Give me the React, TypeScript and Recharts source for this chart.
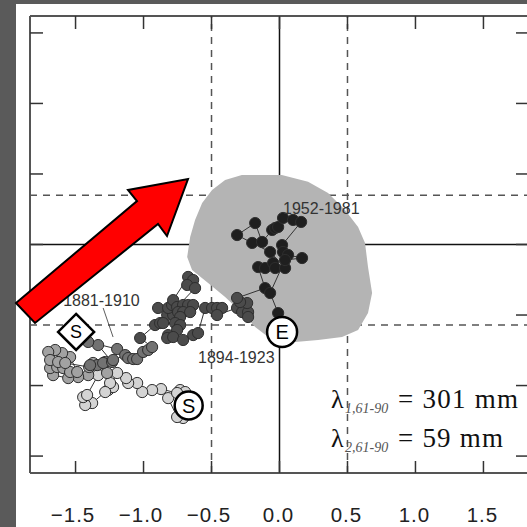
import React from "react";
import { ComposedChart, Scatter, XAxis, YAxis, ReferenceLine, Curve } from "recharts";

type Pt = [number, number];

const X_TICKS = [-1.5, -1, -0.5, 0, 0.5, 1, 1.5];
const Y_TICKS = [-1.5, -1, -0.5, 0, 0.5, 1, 1.5];
const X_DOMAIN = [-1.835, 1.835];
const Y_DOMAIN = [-1.62, 1.62];
const DASHED_X = [-0.5, 0.5];
const DASHED_Y = [0.35, -0.57];

// grey envelope (outline, clockwise from top)
const ENVELOPE: Pt[] = [
  [-0.277, 0.493], [0.017, 0.493], [0.21, 0.445], [0.357, 0.365], [0.482, 0.245],
  [0.578, 0.124], [0.629, 0.011], [0.651, -0.16], [0.681, -0.344], [0.651, -0.486],
  [0.578, -0.606], [0.46, -0.656], [0.284, -0.677], [0.115, -0.691], [-0.054, -0.677],
  [-0.179, -0.585], [-0.275, -0.486], [-0.4, -0.372], [-0.525, -0.273], [-0.643, -0.181],
  [-0.679, -0.089], [-0.657, 0.053], [-0.621, 0.174], [-0.569, 0.294], [-0.496, 0.387],
  [-0.4, 0.457],
];

// trajectory, oldest (light) to newest (black)
const LIGHT: Pt[] = [
  [-0.657, -1.138], [-0.709, -1.23], [-0.753, -1.223], [-0.819, -1.089], [-0.731, -1.032],
  [-0.694, -1.046], [-0.753, -1.053], [-0.871, -1.025], [-0.937, -1.032], [-1.01, -1.046],
  [-1.047, -0.982], [-1.113, -0.982], [-1.128, -0.947], [-1.194, -0.911], [-1.26, -1.032],
  [-1.224, -1.011], [-1.246, -0.982], [-1.282, -1.046], [-1.378, -1.124], [-1.429, -1.138],
  [-1.444, -1.082], [-1.415, -1.067], [-1.334, -0.926],
];
const MID_LIGHT: Pt[] = [
  [-1.407, -0.926], [-1.481, -0.94], [-1.554, -0.947], [-1.665, -0.926], [-1.687, -0.876],
  [-1.635, -0.869], [-1.591, -0.876], [-1.54, -0.904], [-1.488, -0.904], [-1.54, -0.798],
  [-1.599, -0.77], [-1.65, -0.748], [-1.701, -0.762], [-1.687, -0.819], [-1.628, -0.833],
  [-1.576, -0.84], [-1.4, -0.869], [-1.371, -0.84], [-1.268, -0.911],
];
const MID_DARK: Pt[] = [
  [-1.282, -0.833], [-1.341, -0.855], [-1.393, -0.855], [-1.297, -0.84], [-1.231, -0.833],
  [-1.334, -0.713], [-1.407, -0.691], [-1.194, -0.741], [-1.224, -0.819], [-1.135, -0.784],
  [-1.113, -0.805], [-1.076, -0.812], [-1.047, -0.812], [-1.003, -0.762], [-0.966, -0.748],
  [-0.937, -0.727],
];
const DARK: Pt[] = [
  [-1.025, -0.663], [-0.915, -0.571], [-0.878, -0.557], [-0.826, -0.5], [-0.782, -0.5],
  [-0.893, -0.45], [-0.819, -0.45], [-0.79, -0.429], [-0.782, -0.394], [-0.672, -0.23],
  [-0.635, -0.252], [-0.679, -0.287], [-0.621, -0.309], [-0.753, -0.443], [-0.709, -0.429],
  [-0.672, -0.429], [-0.635, -0.429], [-0.746, -0.479], [-0.709, -0.479], [-0.657, -0.479],
  [-0.731, -0.514], [-0.768, -0.557], [-0.856, -0.557], [-0.731, -0.571], [-0.753, -0.606],
  [-0.819, -0.642], [-0.826, -0.663], [-0.782, -0.656], [-0.709, -0.677], [-0.635, -0.642],
  [-0.599, -0.628], [-0.547, -0.45], [-0.496, -0.45], [-0.459, -0.45], [-0.422, -0.45],
  [-0.459, -0.5], [-0.312, -0.45], [-0.275, -0.479], [-0.231, -0.479], [-0.231, -0.514],
  [-0.238, -0.415], [-0.29, -0.408], [-0.312, -0.379],
];
const BLACK: Pt[] = [
  [-0.106, -0.309], [-0.157, -0.16], [-0.106, -0.167], [-0.047, -0.131], [-0.032, -0.167],
  [0.041, -0.167], [-0.069, -0.053], [-0.201, 0.011], [-0.312, 0.067], [-0.179, 0.152],
  [-0.128, 0.018], [-0.054, 0.103], [-0.032, 0.117], [-0.01, 0.124], [0.026, 0.188],
  [0.1, 0.174], [0.159, 0.16], [0.019, -0.004], [0.026, -0.053], [0.063, -0.074],
  [0.166, -0.096], [0.041, -0.11], [-0.069, -0.344], [-0.01, -0.486],
];

const START_S: Pt[] = [[-0.668, -1.142]];
const END_E: Pt[] = [[0.019, -0.62]];
const DIAMOND_S: Pt[] = [[-1.496, -0.62]];

const PERIOD_LABELS = ["1952-1981", "1881-1910", "1894-1923"];
const PERIOD_POS: Pt[] = [[0.026, 0.216], [-1.591, -0.436], [-0.599, -0.84]];
const LEADER: Pt[] = [[-1.297, -0.45], [-1.224, -0.656]];

const toXY = (pts: Pt[]) => pts.map(([x, y]) => ({ x, y }));

const GROUPS = [
  { name: "light", pts: LIGHT, fill: "#d4d4d4" },
  { name: "midLight", pts: MID_LIGHT, fill: "#a2a2a2" },
  { name: "midDark", pts: MID_DARK, fill: "#727272" },
  { name: "dark", pts: DARK, fill: "#4b4b4b" },
  { name: "black", pts: BLACK, fill: "#1f1f1f" },
];

const TRAJECTORY = [...START_S, ...LIGHT, ...MID_LIGHT, ...MID_DARK, ...DARK, ...BLACK, ...END_E];

const SANS = "Liberation Sans, Arial, sans-serif";
const SERIF = "Liberation Serif, Times New Roman, serif";
const TICK = "#333";

const Empty = () => <g />;

const fmt = (v: number) => (v < 0 ? "\u2212" : "") + Math.abs(v).toFixed(1);

const BottomTick = (p: any) => (
  <g>
    <line x1={p.x} y1={p.y} x2={p.x} y2={p.y - 12} stroke={TICK} strokeWidth={1.5} />
    <text
      x={p.x + (p.payload.value < 0 ? -2.5 : -1)}
      y={p.y + 49}
      textAnchor="middle"
      fontFamily={SANS}
      fontSize={20.5}
      letterSpacing={1}
      fill="#222"
    >
      {fmt(p.payload.value)}
    </text>
  </g>
);
const TopTick = (p: any) => (
  <line x1={p.x} y1={p.y} x2={p.x} y2={p.y + 13} stroke={TICK} strokeWidth={1.5} />
);
const LeftTick = (p: any) => (
  <line x1={p.x} y1={p.y} x2={p.x + 13} y2={p.y} stroke={TICK} strokeWidth={1.5} />
);
const RightTick = (p: any) => (
  <line x1={p.x} y1={p.y} x2={p.x - 13} y2={p.y} stroke={TICK} strokeWidth={1.5} />
);

const envelopeLine = (p: any) => (
  <Curve points={p.points} type="linearClosed" fill="#b4b4b4" stroke="none" />
);

const dot = (fill: string) => (p: any) => (
  <circle cx={p.cx} cy={p.cy} r={5.6} fill={fill} stroke="#2e2e2e" strokeWidth={1} />
);

const circleMarker = (letter: string, r: number) => (p: any) => (
  <g>
    <circle cx={p.cx} cy={p.cy} r={r} fill="#fff" stroke="#000" strokeWidth={2.5} />
    <text x={p.cx} y={p.cy + 7} textAnchor="middle" fontFamily={SANS} fontSize={20} fill="#000">
      {letter}
    </text>
  </g>
);

const diamondMarker = (p: any) => {
  const h = 18;
  return (
    <g>
      <polygon
        points={`${p.cx},${p.cy - h} ${p.cx + h},${p.cy} ${p.cx},${p.cy + h} ${p.cx - h},${p.cy}`}
        fill="#fff"
        stroke="#000"
        strokeWidth={2.5}
      />
      <text x={p.cx} y={p.cy + 6.5} textAnchor="middle" fontFamily={SANS} fontSize={18} fill="#000">
        S
      </text>
    </g>
  );
};

const periodLabel = (p: any) => (
  <text x={p.cx} y={p.cy} fontFamily={SANS} fontSize={16} fill="#333">
    {PERIOD_LABELS[p.index]}
  </text>
);

const axisLine = { stroke: "#555", strokeWidth: 2 };

export default function App() {
  return (
    <div
      style={{
        position: "fixed",
        left: 0,
        top: 0,
        width: 527,
        height: 527,
        overflow: "hidden",
        background: "#5a5a5a",
      }}
    >
      <div style={{ position: "absolute", left: 16, top: 4, width: 511, height: 523, background: "#fff" }} />
      <div style={{ position: "absolute", left: 0, top: 0 }}>
        <ComposedChart width={545} height={527} margin={{ top: 15, right: 15, bottom: 53, left: 29 }}>
          <XAxis
            type="number"
            dataKey="x"
            domain={X_DOMAIN}
            ticks={X_TICKS}
            interval={0}
            height={1}
            tickSize={0}
            tickMargin={0}
            tickLine={false}
            axisLine={axisLine}
            tick={BottomTick}
            allowDataOverflow
          />
          <XAxis
            xAxisId="top"
            orientation="top"
            type="number"
            dataKey="x"
            domain={X_DOMAIN}
            ticks={X_TICKS}
            interval={0}
            height={1}
            tickSize={0}
            tickMargin={0}
            tickLine={false}
            axisLine={axisLine}
            tick={TopTick}
            allowDataOverflow
          />
          <YAxis
            type="number"
            dataKey="y"
            domain={Y_DOMAIN}
            ticks={Y_TICKS}
            interval={0}
            width={1}
            tickSize={0}
            tickMargin={0}
            tickLine={false}
            axisLine={axisLine}
            tick={LeftTick}
            allowDataOverflow
          />
          <YAxis
            yAxisId="right"
            orientation="right"
            type="number"
            dataKey="y"
            domain={Y_DOMAIN}
            ticks={Y_TICKS}
            interval={0}
            width={1}
            tickSize={0}
            tickMargin={0}
            tickLine={false}
            axisLine={axisLine}
            tick={RightTick}
            allowDataOverflow
          />

          <Scatter data={toXY(ENVELOPE)} shape={Empty} line={envelopeLine} isAnimationActive={false} />

          {DASHED_X.map((v) => (
            <ReferenceLine key={`dx${v}`} x={v} stroke="#555" strokeWidth={1.5} strokeDasharray="7 6" />
          ))}
          {DASHED_Y.map((v) => (
            <ReferenceLine key={`dy${v}`} y={v} stroke="#555" strokeWidth={1.5} strokeDasharray="7 6" />
          ))}
          <ReferenceLine x={0} stroke="#111" strokeWidth={1.5} />
          <ReferenceLine y={0} stroke="#111" strokeWidth={1.5} />
          <ReferenceLine segment={toXY(LEADER)} stroke="#333" strokeWidth={0.8} />

          <Scatter
            data={toXY(TRAJECTORY)}
            shape={Empty}
            line={{ stroke: "#333", strokeWidth: 1 }}
            isAnimationActive={false}
          />
          {GROUPS.map((g) => (
            <Scatter key={g.name} data={toXY(g.pts)} shape={dot(g.fill)} isAnimationActive={false} />
          ))}

          <Scatter data={toXY(START_S)} shape={circleMarker("S", 14)} isAnimationActive={false} />
          <Scatter data={toXY(END_E)} shape={circleMarker("E", 15)} isAnimationActive={false} />
          <Scatter data={toXY(DIAMOND_S)} shape={diamondMarker} isAnimationActive={false} />
          <Scatter data={toXY(PERIOD_POS)} shape={periodLabel} isAnimationActive={false} />
        </ComposedChart>
      </div>

      <svg
        width={527}
        height={527}
        style={{ position: "absolute", left: 0, top: 0, pointerEvents: "none" }}
      >
        <polygon
          points="16,303 137,201 128,190 188,179 167,236 158,224 35,323"
          fill="#ff0000"
          stroke="#000"
          strokeWidth={2}
        />
        <g fontFamily={SERIF} fill="#111">
          <text x={331} y={408} fontSize={26}>λ</text>
          <text x={345} y={413} fontSize={14} fontStyle="italic" fill="#555">1,61-90</text>
          <text x={398} y={408} fontSize={27} textLength={120} lengthAdjust="spacing">= 301 mm</text>
          <text x={331} y={447} fontSize={26}>λ</text>
          <text x={345} y={452} fontSize={14} fontStyle="italic" fill="#555">2,61-90</text>
          <text x={398} y={447} fontSize={27} textLength={105} lengthAdjust="spacing">= 59 mm</text>
        </g>
      </svg>
    </div>
  );
}
